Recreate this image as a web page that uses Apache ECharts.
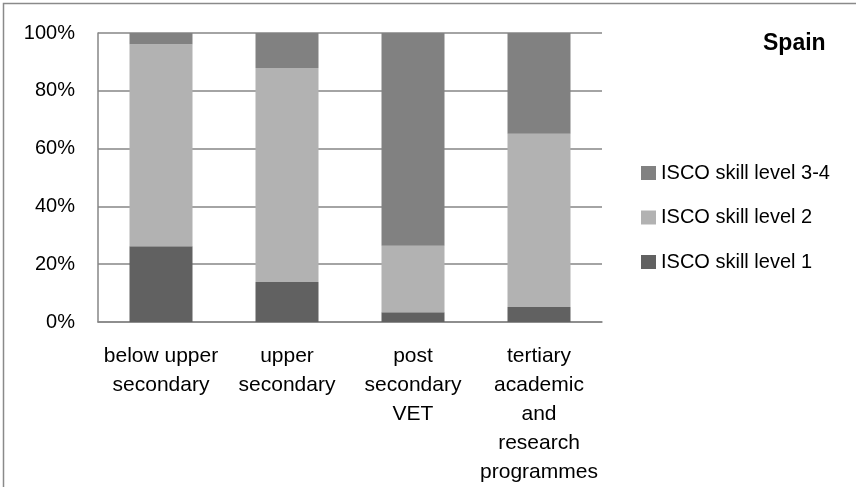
<!DOCTYPE html>
<html>
<head>
<meta charset="utf-8">
<style>
  html, body { margin: 0; padding: 0; background: #fff; }
  #chart { width: 856px; height: 487px; }
</style>
<script src="https://cdn.jsdelivr.net/npm/echarts@6/dist/echarts.min.js"></script>
</head>
<body>
<div id="chart"></div>
<script>
// Education levels (x-axis categories)
const categories = [
  'below upper\nsecondary',
  'upper\nsecondary',
  'post\nsecondary\nVET',
  'tertiary\nacademic\nand\nresearch\nprogrammes'
];

// Share of employed by ISCO skill level, percent
const skillLevel1 = [26.2, 13.8, 3.4, 5.2];
const skillLevel2 = [69.9, 74.1, 23.0, 59.9];
const skillLevel34 = [3.9, 12.1, 73.6, 34.9];

const seriesNames = ['ISCO skill level 1', 'ISCO skill level 2', 'ISCO skill level 3-4'];
const seriesColors = ['#616161', '#b2b2b2', '#818181'];
const yTicks = [0, 20, 40, 60, 80, 100];

const FONT = '"Liberation Sans", Arial, sans-serif';

const chart = echarts.init(document.getElementById('chart'), null, { renderer: 'canvas' });

const data = [skillLevel1, skillLevel2, skillLevel34];

chart.setOption({
  animation: false,
  backgroundColor: '#ffffff',
  textStyle: { fontFamily: FONT, color: '#000' },
  graphic: [
    {
      type: 'rect',
      shape: { x: 3.5, y: 3.5, width: 900, height: 600 },
      style: { fill: 'none', stroke: '#8a8a8a', lineWidth: 1.5 },
      silent: true
    },
    {
      type: 'text',
      left: 763,
      top: 32,
      style: { text: 'Spain', font: 'bold 23px ' + FONT, fill: '#000' }
    }
  ],
  grid: { left: 98, right: 254, top: 33, bottom: 164, containLabel: false },
  legend: {
    orient: 'vertical',
    left: 636,
    top: 158,
    itemWidth: 15,
    itemHeight: 14,
    itemGap: 24.5,
    icon: 'rect',
    data: [seriesNames[2], seriesNames[1], seriesNames[0]],
    textStyle: { fontFamily: FONT, fontSize: 20, color: '#000', lineHeight: 20 }
  },
  xAxis: {
    type: 'category',
    data: categories,
    axisLine: { show: true, lineStyle: { color: '#868686', width: 1.5 } },
    axisTick: { show: false },
    axisLabel: {
      interval: 0,
      margin: 20,
      fontFamily: FONT,
      fontSize: 21,
      lineHeight: 29,
      color: '#000',
      align: 'center'
    }
  },
  yAxis: {
    type: 'value',
    min: yTicks[0],
    max: yTicks[yTicks.length - 1],
    interval: yTicks[1] - yTicks[0],
    axisLine: { show: true, lineStyle: { color: '#868686', width: 1.5 } },
    axisTick: { show: false },
    splitLine: { show: true, lineStyle: { color: '#868686', width: 1.5 } },
    axisLabel: {
      margin: 23,
      fontFamily: FONT,
      fontSize: 20,
      color: '#000',
      formatter: v => v + '%'
    }
  },
  series: data.map((vals, i) => ({
    name: seriesNames[i],
    type: 'bar',
    stack: 'total',
    barWidth: '50%',
    data: vals,
    itemStyle: { color: seriesColors[i] }
  }))
});
</script>
</body>
</html>
